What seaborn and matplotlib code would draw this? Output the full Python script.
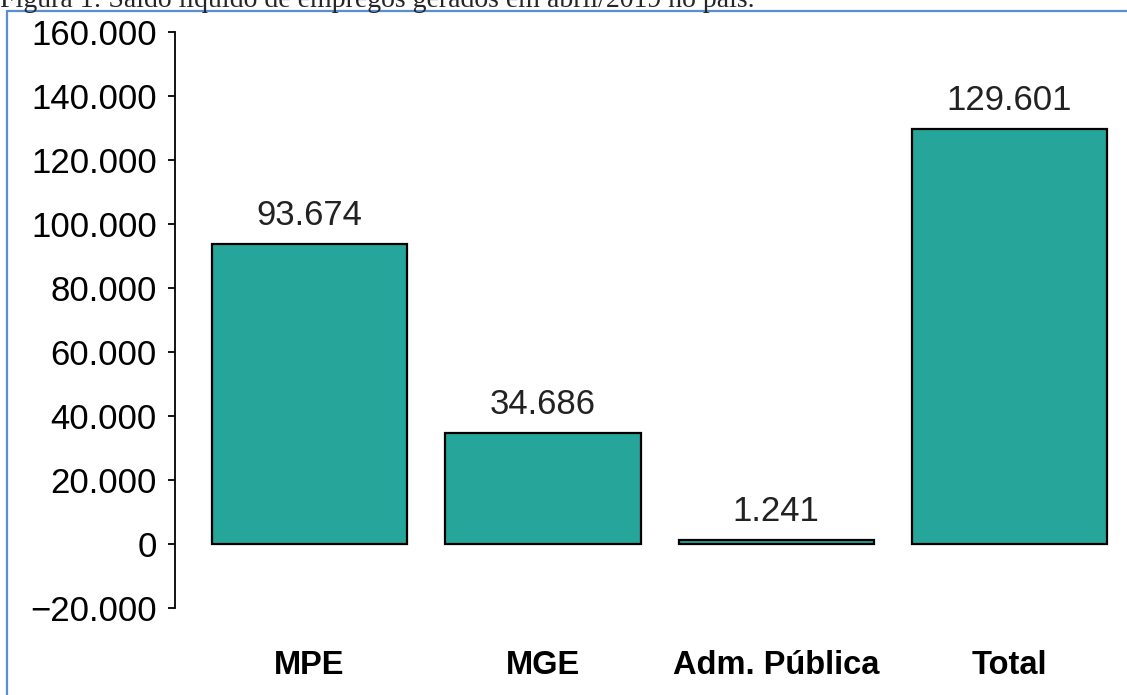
import matplotlib
matplotlib.use("Agg")
import matplotlib.pyplot as plt
from matplotlib.lines import Line2D
from matplotlib.ticker import FuncFormatter
import pandas as pd
import seaborn as sns

# saldo líquido de empregos, abril/2019
categories = ["MPE", "MGE", "Adm. Pública", "Total"]
values = [93674, 34686, 1241, 129601]
y_ticks = [-20000, 0, 20000, 40000, 60000, 80000, 100000, 120000, 140000, 160000]

BAR_COLOR = "#26A69A"
FRAME_BLUE = "#5B8DD3"


def br_number(v, pos=None):
    s = f"{abs(v):,.0f}".replace(",", ".")
    return ("\u2212" + s) if v < 0 else s


df = pd.DataFrame({"categoria": categories, "saldo": values})

sns.set_theme(style="white")
plt.rcParams["font.family"] = ["Liberation Sans", "DejaVu Sans"]

fig = plt.figure(figsize=(11.27, 6.95), dpi=100)
ax = fig.add_axes([175 / 1127, 1 - 608 / 695, 1 - 175 / 1127, (608 - 32) / 695])

sns.barplot(data=df, x="categoria", y="saldo", color=BAR_COLOR, saturation=1,
            edgecolor="black", linewidth=1.6, width=0.837, ax=ax)

ax.set_ylim(-20000, 160000)
ax.set_xlim(-0.577, 3.504)
ax.set_yticks(y_ticks)
ax.yaxis.set_major_formatter(FuncFormatter(br_number))
ax.tick_params(axis="y", which="major", left=True, length=5, width=1.3,
               color="black", pad=8, labelsize=25, labelcolor="black")
ax.tick_params(axis="x", bottom=False, pad=24, labelsize=23.5)
for lab in ax.get_xticklabels():
    lab.set_fontweight("bold")
    lab.set_color("black")

for side in ["top", "right", "bottom"]:
    ax.spines[side].set_visible(False)
ax.spines["left"].set_color("black")
ax.spines["left"].set_linewidth(1.3)
ax.spines["left"].set_bounds(-20000, 160000)
ax.set_xlabel("")
ax.set_ylabel("")

labels = [br_number(v) for v in values]
ax.bar_label(ax.containers[0], labels=labels, padding=9, fontsize=25, color="#222222")

# caption cropped at the top of the picture, as in the source document
fig.text(0.0, 1 - 7 / 695, "Figura 1: Saldo líquido de empregos gerados em abril/2019 no país.",
         family=["Liberation Serif", "DejaVu Serif"], fontsize=20, va="baseline", ha="left")

# blue frame of the document box
fig.add_artist(Line2D([7 / 1127, 7 / 1127], [0, 1 - 11 / 695], transform=fig.transFigure,
                      color=FRAME_BLUE, linewidth=1.6))
fig.add_artist(Line2D([7 / 1127, 1], [1 - 11 / 695, 1 - 11 / 695], transform=fig.transFigure,
                      color=FRAME_BLUE, linewidth=1.6))

fig.savefig("out.png", dpi=100)
